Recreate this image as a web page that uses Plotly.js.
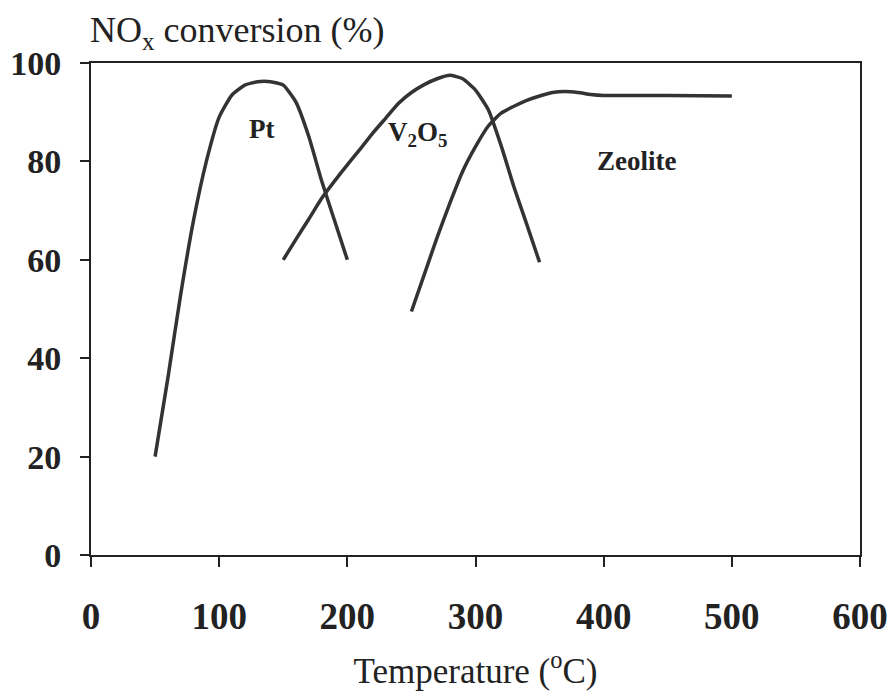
<!DOCTYPE html>
<html>
<head>
<meta charset="utf-8">
<script src="https://cdn.plot.ly/plotly-3.0.1.min.js"></script>
<style>html,body{margin:0;padding:0;background:#fff;}#chart{width:888px;height:700px;}</style>
</head>
<body>
<div id="chart"></div>
<script>
// Data
const ptTemp = [50, 60, 70, 80, 90, 100, 110, 120, 130, 140, 150, 160, 170, 180, 190, 200];
const ptConv = [20, 36, 53, 68, 80, 89, 93.5, 95.5, 96.2, 96.2, 95.5, 92, 85, 76, 68, 60];

const vTemp = [150, 160, 170, 180, 190, 200, 210, 220, 230, 240, 250, 260, 270, 280, 290, 300, 310, 320, 330, 340, 350];
const vConv = [60, 64.2, 68.3, 72.5, 76, 79.3, 82.5, 85.8, 88.8, 91.8, 94, 95.6, 96.8, 97.5, 96.8, 94.5, 90.5, 83.2, 74.8, 67.2, 59.5];

const zTemp = [250, 260, 270, 280, 290, 300, 310, 320, 330, 340, 350, 360, 370, 380, 390, 400, 450, 500];
const zConv = [49.5, 57, 64.5, 71.5, 78, 83, 87.2, 89.8, 91.2, 92.4, 93.3, 94, 94.2, 94, 93.6, 93.4, 93.4, 93.3];

const seriesNames = ['Pt', 'V<sub>2</sub>O<sub>5</sub>', 'Zeolite'];
const labelX = [133, 255, 426];
const labelY = [86.5, 85.5, 80];

const xTicks = [0, 100, 200, 300, 400, 500, 600];
const yTicks = [0, 20, 40, 60, 80, 100];

const lineStyle = {color: '#333333', width: 3.5, shape: 'spline', smoothing: 0.5};
const traces = [
  {x: ptTemp, y: ptConv, mode: 'lines', line: lineStyle, name: 'Pt'},
  {x: vTemp, y: vConv, mode: 'lines', line: lineStyle, name: 'V2O5'},
  {x: zTemp, y: zConv, mode: 'lines', line: lineStyle, name: 'Zeolite'}
];

const serif = 'Liberation Serif, Times New Roman, serif';
const annotations = seriesNames.map((t, i) => ({
  x: labelX[i], y: labelY[i], xref: 'x', yref: 'y', text: '<b>' + t + '</b>',
  showarrow: false, font: {family: serif, size: 27, color: '#222'}
}));
annotations.push({
  xref: 'paper', yref: 'paper', x: -0.004, y: 1, xanchor: 'left', yanchor: 'bottom', yshift: 6,
  text: 'NO<sub>x</sub> conversion (%)', showarrow: false,
  font: {family: serif, size: 36, color: '#222'}
});

const layout = {
  width: 888, height: 700,
  margin: {l: 91, r: 28, t: 63, b: 145},
  paper_bgcolor: '#fff', plot_bgcolor: '#fff',
  showlegend: false,
  xaxis: {
    range: [0, 600], tickvals: xTicks, ticktext: xTicks.map(String),
    showgrid: false, zeroline: false, showline: true, linecolor: '#222', linewidth: 2,
    mirror: true, ticks: 'outside', ticklen: 10, tickwidth: 2, tickcolor: '#222',
    tickfont: {family: serif, size: 37, color: '#222', weight: 'bold'},
    ticklabelstandoff: 18,
    title: {text: 'Temperature (<sup>o</sup>C)', font: {family: serif, size: 35, color: '#222'}, standoff: 22}
  },
  yaxis: {
    range: [0, 100], tickvals: yTicks, ticktext: yTicks.map(String),
    showgrid: false, zeroline: false, showline: true, linecolor: '#222', linewidth: 2,
    mirror: true, ticks: 'outside', ticklen: 9, tickwidth: 2, tickcolor: '#222',
    tickfont: {family: serif, size: 34, color: '#222', weight: 'bold'},
    ticklabelstandoff: 12
  },
  annotations: annotations
};

Plotly.newPlot('chart', traces, layout, {displayModeBar: false, staticPlot: true});
</script>
</body>
</html>
